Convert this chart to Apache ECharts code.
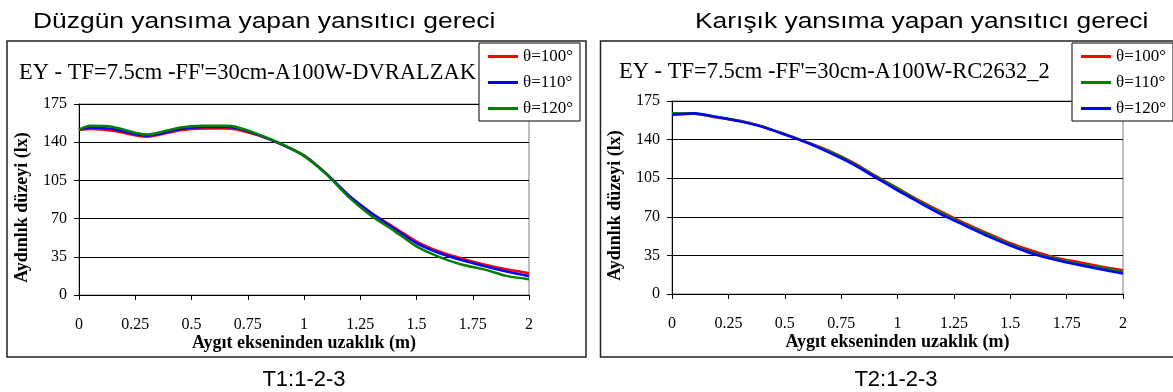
<!DOCTYPE html>
<html>
<head>
<meta charset="utf-8">
<script src="https://cdn.jsdelivr.net/npm/echarts@6/dist/echarts.min.js"></script>
<style>
  html, body { margin: 0; padding: 0; background: #fff; }
  #chart { width: 1173px; height: 392px; }
</style>
</head>
<body>
<div id="chart"></div>
<script>
// Illuminance (lx) versus distance from the luminaire axis (m)
const angleNames = ['θ=100°', 'θ=110°', 'θ=120°'];

// T1 – specular reflector (DVRALZAK)
const distT1 = [0, 0.05, 0.15, 0.3, 0.45, 0.55, 0.65, 0.7, 0.8, 0.9, 1.0, 1.1, 1.2, 1.3, 1.4, 1.5, 1.6, 1.7, 1.8, 1.9, 2.0];
const t1_100 = [151.5, 152, 150.5, 145, 151, 152.5, 152.5, 151.5, 146, 138, 128, 111, 91, 75, 62, 49, 40, 33.5, 28, 23.5, 20];
const t1_110 = [151.5, 153.5, 152, 146, 152, 154, 154, 153, 146.5, 138, 127.5, 111, 91, 75, 61, 47.5, 38.5, 32, 26.5, 21.5, 17.5];
const t1_120 = [151.5, 155, 154, 147, 153.5, 155, 155, 154, 147, 138.5, 127.5, 110.5, 89.5, 72.5, 59, 44.5, 35, 28, 23.5, 17.5, 14.5];

// T2 – diffuse/mixed reflector (RC2632_2)
const distT2 = [0, 0.1, 0.2, 0.3, 0.4, 0.5, 0.6, 0.7, 0.8, 0.9, 1.0, 1.1, 1.2, 1.3, 1.4, 1.5, 1.6, 1.7, 1.8, 1.9, 2.0];
const t2_100 = [163, 163.5, 160, 157, 152, 145, 137.5, 129.5, 119.5, 107.5, 96, 84.5, 74, 64, 55, 46, 39, 33, 29, 25, 21.5];
const t2_110 = [163.8, 163.5, 160.5, 157, 152, 145, 137.5, 129, 119, 107, 95.5, 83.5, 73, 63, 54, 45, 37.5, 32, 27.5, 24, 20];
const t2_120 = [162.5, 164, 160.5, 156.5, 151.5, 144.5, 137, 128, 118, 106, 94, 82.5, 71.5, 62, 52.5, 44, 36.5, 31, 26.5, 22.5, 18.5];

// Axis ranges
const yMax = 175, yStep = 35;
const xMax = 2, xStep = 0.25;

const SERIF = '"Liberation Serif", "Times New Roman", serif';
const SANS = '"Liberation Sans", Arial, sans-serif';

const colorsT1 = ['#ff0000', '#0000ff', '#008000'];
const colorsT2 = ['#ff0000', '#008000', '#0000ff'];

function pairs(xs, ys) { return xs.map((x, i) => [x, ys[i]]); }

function makeSeries(prefix, idx, xs, sets, colors) {
  return sets.map((ys, k) => ({
    name: prefix + '|' + angleNames[k],
    type: 'line',
    xAxisIndex: idx, yAxisIndex: idx,
    data: pairs(xs, ys),
    smooth: 0.25,
    symbol: 'none',
    lineStyle: { color: colors[k], width: 2.5 },
    itemStyle: { color: colors[k] },
    emphasis: { disabled: true },
    animation: false
  }));
}

function xAxisFor(idx) {
  return {
    gridIndex: idx, type: 'value', min: 0, max: xMax, interval: xStep,
    axisLine: { onZero: false, lineStyle: { color: '#000', width: 1 } },
    axisTick: { show: true, length: 5, lineStyle: { color: '#000' } },
    axisLabel: { fontFamily: SERIF, fontSize: 16, color: '#000', margin: 22 },
    splitLine: { show: false },
    name: 'Aygıt ekseninden uzaklık (m)', nameLocation: 'middle', nameGap: 37,
    nameTextStyle: { fontFamily: SERIF, fontWeight: 'bold', fontSize: 18, color: '#000' }
  };
}

function yAxisFor(idx) {
  return {
    gridIndex: idx, type: 'value', min: 0, max: yMax, interval: yStep,
    axisLine: { show: true, lineStyle: { color: '#000', width: 1 } },
    axisTick: { show: true, length: 5, lineStyle: { color: '#000' } },
    axisLabel: { fontFamily: SERIF, fontSize: 16, color: '#000', margin: 12 },
    splitLine: { show: true, lineStyle: { color: '#000', width: 1 } },
    name: 'Aydınlık düzeyi (lx)', nameLocation: 'middle', nameGap: 48,
    nameTextStyle: { fontFamily: SERIF, fontWeight: 'bold', fontSize: 18, color: '#000', padding: [0, 16, 0, 0] }
  };
}

function legendFor(prefix, left) {
  return {
    orient: 'vertical', left: left, top: 43,
    data: angleNames.map(n => prefix + '|' + n),
    formatter: n => n.split('|')[1],
    icon: 'rect', itemWidth: 30, itemHeight: 3, itemGap: 9,
    padding: [5, 7, 4, 9],
    borderColor: '#000', borderWidth: 1, backgroundColor: '#fff',
    textStyle: { fontFamily: SERIF, fontSize: 17, lineHeight: 17, color: '#000' },
    selectedMode: false, z: 10
  };
}

function frame(x, y, w, h) {
  return { type: 'rect', shape: { x: x, y: y, width: w, height: h },
           style: { fill: null, stroke: '#222', lineWidth: 1.5 }, z: 0, silent: true };
}

function label(text, x, y, font, opts) {
  return Object.assign({ type: 'text', x: x, y: y, silent: true, z: 20,
    style: { text: text, font: font, fill: '#000', align: 'left', verticalAlign: 'middle' } }, opts || {});
}

const chart = echarts.init(document.getElementById('chart'), null, { renderer: 'canvas' });

chart.setOption({
  animation: false,
  backgroundColor: '#fff',
  grid: [
    { left: 79, right: 1173 - 529, top: 104, bottom: 392 - 295, show: true, borderColor: '#808080', borderWidth: 1 },
    { left: 672, right: 1173 - 1123, top: 101, bottom: 392 - 294, show: true, borderColor: '#808080', borderWidth: 1 }
  ],
  xAxis: [xAxisFor(0), xAxisFor(1)],
  yAxis: [yAxisFor(0), yAxisFor(1)],
  legend: [legendFor('T1', 479), legendFor('T2', 1072)],
  series: [
    ...makeSeries('T1', 0, distT1, [t1_100, t1_110, t1_120], colorsT1),
    ...makeSeries('T2', 1, distT2, [t2_100, t2_110, t2_120], colorsT2)
  ],
  graphic: [
    frame(7, 41, 579, 316),
    frame(600.5, 41, 590, 316),
    label('Düzgün yansıma yapan yansıtıcı gereci', 33, 21.5, '22px ' + SANS, { scaleX: 1.2 }),
    label('Karışık yansıma yapan yansıtıcı gereci', 695, 21.5, '22px ' + SANS, { scaleX: 1.2 }),
    label("EY - TF=7.5cm -FF'=30cm-A100W-DVRALZAK", 19, 73, '22.5px ' + SERIF),
    label("EY - TF=7.5cm -FF'=30cm-A100W-RC2632_2", 619, 72, '22.5px ' + SERIF),
    label('T1:1-2-3', 304, 380, '22px ' + SANS, { style: { text: 'T1:1-2-3', font: '22px ' + SANS, fill: '#000', align: 'center', verticalAlign: 'middle' } }),
    label('T2:1-2-3', 896, 380, '22px ' + SANS, { style: { text: 'T2:1-2-3', font: '22px ' + SANS, fill: '#000', align: 'center', verticalAlign: 'middle' } })
  ]
});
</script>
</body>
</html>
